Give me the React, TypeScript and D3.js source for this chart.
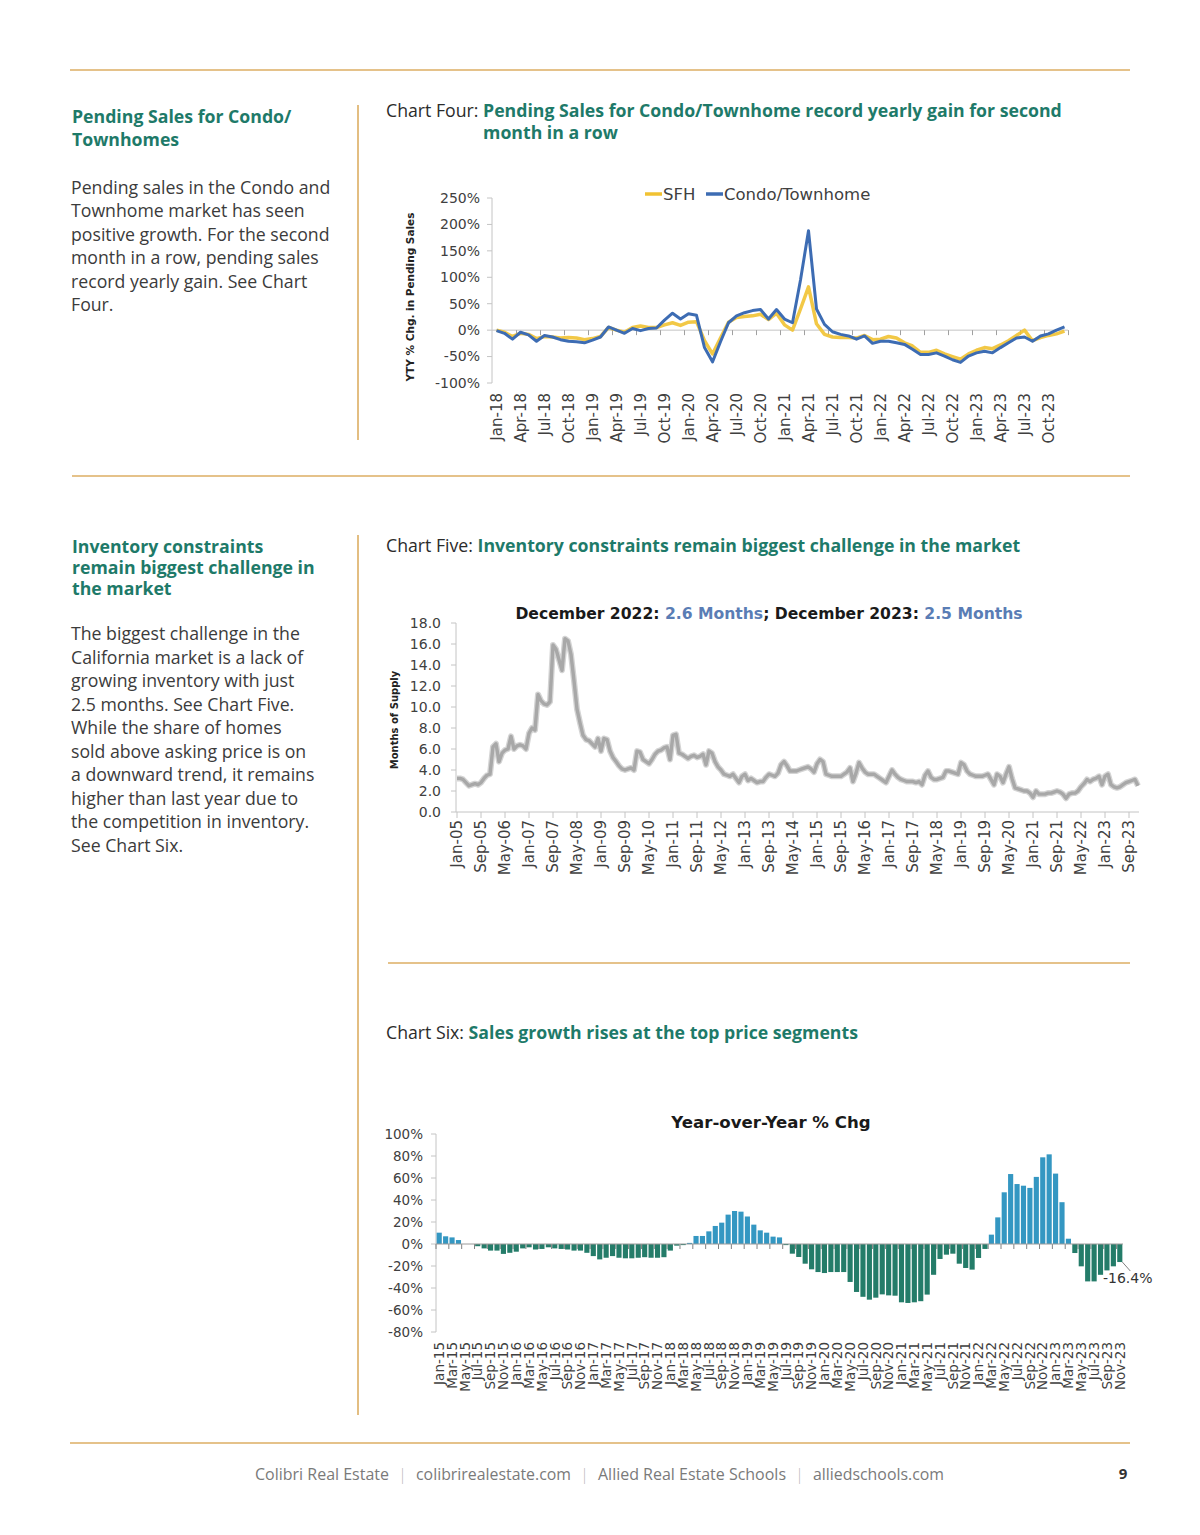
import * as d3 from "d3";
import { useEffect, useRef } from "react";

const TEAL = "#1e7a69";
const GOLD = "#dcae63";
const INK = "#3b3b3b";
const AXIS = "#c4c4c4";
const CHART_FONT = "'DejaVu Sans', sans-serif";
const PAGE_FONT = "'Open Sans', sans-serif";
const PAGE_SIZE = 17.7;

// Chart Four: YTY % chg in pending sales, monthly Jan-18 .. Dec-23
const pendingStart = new Date(2018, 0, 1);
const sfhPending = [
  0, -4, -12, -6, -8, -16, -12, -13, -15, -14, -15, -18,
  -16, -12, 5, 0, -4, 5, 8, 5, 5, 10, 14, 9,
  15, 16, -20, -45, -15, 15, 24, 26, 27, 30, 20, 32,
  10, 0, 40, 82, 12, -8, -13, -14, -14, -15, -10, -18,
  -17, -12, -15, -24, -30, -42, -42, -38, -45, -50, -55, -45,
  -38, -33, -35, -28, -20, -10, 0, -20, -14, -10, -7, -2,
];
const condoPending = [
  -1, -6, -17, -4, -9, -21, -10, -13, -18, -21, -22, -24,
  -19, -13, 6, 0, -6, 3, -1, 3, 4, 19, 32, 21,
  31, 28, -33, -60, -22, 14, 27, 33, 37, 39, 21, 39,
  21, 14, 95, 188, 40, 11, -3, -8, -11, -17, -11, -25,
  -21, -21, -24, -27, -36, -46, -46, -43, -49, -56, -61, -49,
  -43, -40, -43, -33, -24, -15, -13, -21, -11, -7, 0, 6,
];
const pendingTicks = [-100, -50, 0, 50, 100, 150, 200, 250];

// Chart Five: months of supply, monthly Jan-05 .. Dec-23
const supplyStart = new Date(2005, 0, 1);
const monthsSupply = [
  3.2, 3.2, 3.1, 2.8, 2.5, 2.6, 2.7, 2.6, 2.8, 3.2, 3.5, 3.6,
  6.2, 6.5, 4.8, 5.6, 5.9, 6.0, 7.2, 6.0, 6.3, 6.4, 6.3, 6.0,
  7.5, 8.0, 7.8, 11.2, 10.6, 10.3, 10.2, 10.5, 15.9, 15.5, 14.5, 13.5,
  16.5, 16.3, 15.0, 12.5, 9.8, 8.5, 7.3, 6.9, 6.8, 6.5, 6.2, 7.0,
  5.8, 7.0, 6.9, 5.8, 5.2, 4.8, 4.4, 4.1, 4.0, 4.1, 4.2, 4.0,
  5.8, 5.7, 5.0, 4.8, 4.6, 5.0, 5.5, 5.8, 5.9, 6.1, 6.2, 5.0,
  7.3, 7.4, 5.6, 5.5, 5.3, 5.1, 5.3, 5.4, 5.2, 5.3, 5.5, 4.5,
  5.8, 5.6, 4.8, 4.3, 4.0, 3.6, 3.5, 3.4, 3.6, 3.2, 2.8, 3.4,
  3.6, 3.0, 3.2, 3.0, 2.8, 2.9, 2.9, 3.3, 3.6, 3.5, 3.4, 3.7,
  4.5, 4.8, 4.4, 3.9, 3.9, 3.9, 4.0, 4.1, 4.2, 4.3, 4.1, 3.8,
  4.6, 5.0, 4.8, 3.6, 3.5, 3.4, 3.4, 3.4, 3.4, 3.6, 3.8, 4.2,
  2.9, 3.7, 4.7, 4.2, 3.8, 3.6, 3.6, 3.6, 3.4, 3.2, 3.0, 2.8,
  3.4, 4.0, 3.6, 3.3, 3.1, 3.0, 2.9, 2.9, 2.9, 2.8, 2.9, 2.6,
  3.5, 3.9, 3.3, 3.1, 3.1, 3.2, 3.3, 3.9, 3.9, 3.8, 3.7, 3.6,
  4.7, 4.5, 3.9, 3.6, 3.5, 3.4, 3.4, 3.4, 3.5, 3.6, 3.1, 2.6,
  3.6, 3.4, 2.8, 3.6, 4.3, 3.2, 2.3, 2.2, 2.1, 2.0, 2.0, 1.8,
  1.4, 2.0, 1.7, 1.7, 1.7, 1.8, 1.8, 1.9, 2.0, 1.9, 1.7, 1.3,
  1.7, 1.8, 1.8, 2.0, 2.4, 2.7, 3.1, 2.9, 3.1, 3.2, 3.4, 2.6,
  3.4, 3.6, 2.6, 2.4, 2.3, 2.4, 2.6, 2.8, 2.9, 3.0, 3.1, 2.5,
];
const supplyTicks = [0, 2, 4, 6, 8, 10, 12, 14, 16, 18];

// Chart Six: year-over-year % chg in sales, monthly Jan-15 .. Nov-23
const salesStart = new Date(2015, 0, 1);
const salesYoY = [
  10.3, 7, 6, 3.6, 0, 0, -2, -4, -6, -6, -9, -8,
  -7, -4, -3, -5, -4.5, -3, -4, -4.5, -5, -6, -6, -8,
  -11, -14, -12.5, -11, -12.5, -13, -13, -12.5, -12, -12.5, -12.5, -12,
  -6, -1.5, -1, 1, 7.3, 7.3, 11.5, 16.4, 19.4, 26.7, 30, 29.4,
  25, 17.6, 12.4, 10.3, 6.7, 6, -1, -8.8, -11.8, -17.9, -23, -25.5,
  -26.4, -25.5, -25.5, -25.5, -34.5, -43.6, -48, -50.6, -48.8, -45.8, -46.7, -47,
  -53, -53.6, -53, -52, -46, -28, -13.6, -9.7, -8.8, -17.9, -21.8, -23.3,
  -12.7, -4.5, 8.5, 24.2, 47, 63.6, 54.5, 53, 51, 61, 78.8, 81.5,
  64, 38, 4.8, -8.2, -20.3, -34, -34, -28, -24, -20.3, -16.4,
];
const salesTicks = [-80, -60, -40, -20, 0, 20, 40, 60, 80, 100];

const monthLabel = (start: Date, i: number) =>
  d3.timeFormat("%b-%y")(d3.timeMonth.offset(start, i));

type Sel = d3.Selection<SVGGElement, unknown, null, undefined>;

function lines(g: Sel, rows: string[], x: number, y0: number, step: number, weight: string, fill: string) {
  g.append("text")
    .attr("font-family", PAGE_FONT)
    .attr("font-size", PAGE_SIZE)
    .attr("font-weight", weight)
    .attr("fill", fill)
    .selectAll("tspan")
    .data(rows)
    .join("tspan")
    .attr("x", x)
    .attr("y", (d, i) => y0 + i * step)
    .text((d) => d);
}

function chartTitle(g: Sel, lead: string, rest: string[], y: number) {
  const t = g
    .append("text")
    .attr("font-family", PAGE_FONT)
    .attr("font-size", PAGE_SIZE)
    .attr("x", 386)
    .attr("y", y);
  const leadSpan = t.append("tspan").attr("fill", "#2b2b2b").text(lead);
  t.append("tspan").attr("fill", TEAL).attr("font-weight", "bold").text(rest[0]);
  if (rest.length > 1) {
    const w = (leadSpan.node() as SVGTextContentElement).getComputedTextLength();
    g.append("text")
      .attr("font-family", PAGE_FONT)
      .attr("font-size", PAGE_SIZE)
      .attr("font-weight", "bold")
      .attr("fill", TEAL)
      .attr("x", 386 + w)
      .attr("y", y + 22)
      .text(rest[1]);
  }
}

const App = () => {
  const ref = useRef<SVGSVGElement>(null);

  useEffect(() => {
    const svg = d3.select(ref.current);
    svg.selectAll("*").remove();
    const page = svg.append("g") as unknown as Sel;

    // rules
    const rules = [
      [70, 1130, 70],
      [72, 1130, 476],
      [388, 1130, 963],
      [70, 1130, 1443],
    ];
    page
      .selectAll(".rule")
      .data(rules)
      .join("line")
      .attr("x1", (d) => d[0])
      .attr("x2", (d) => d[1])
      .attr("y1", (d) => d[2])
      .attr("y2", (d) => d[2])
      .attr("stroke", GOLD)
      .attr("stroke-width", 1.6);
    page
      .selectAll(".vrule")
      .data([
        [105, 440],
        [535, 1415],
      ])
      .join("line")
      .attr("x1", 358)
      .attr("x2", 358)
      .attr("y1", (d) => d[0])
      .attr("y2", (d) => d[1])
      .attr("stroke", GOLD)
      .attr("stroke-width", 1.6);

    // left column
    lines(page, ["Pending Sales for Condo/", "Townhomes"], 72, 123, 23, "bold", TEAL);
    lines(
      page,
      [
        "Pending sales in the Condo and",
        "Townhome market has seen",
        "positive growth. For the second",
        "month in a row, pending sales",
        "record yearly gain. See Chart",
        "Four.",
      ],
      71,
      194,
      23.4,
      "normal",
      INK
    );
    lines(page, ["Inventory constraints", "remain biggest challenge in", "the market"], 72, 553, 21, "bold", TEAL);
    lines(
      page,
      [
        "The biggest challenge in the",
        "California market is a lack of",
        "growing inventory with just",
        "2.5 months. See Chart Five.",
        "While the share of homes",
        "sold above asking price is on",
        "a downward trend, it remains",
        "higher than last year due to",
        "the competition in inventory.",
        "See Chart Six.",
      ],
      71,
      640,
      23.5,
      "normal",
      INK
    );

    chartTitle(page, "Chart Four: ", ["Pending Sales for Condo/Townhome record yearly gain for second", "month in a row"], 117);
    chartTitle(page, "Chart Five: ", ["Inventory constraints remain biggest challenge in the market"], 552);
    chartTitle(page, "Chart Six: ", ["Sales growth rises at the top price segments"], 1039);

    // ---------- Chart Four ----------
    const c4 = svg.append("g").attr("font-family", CHART_FONT).attr("fill", "#404040");
    const x4 = d3.scaleLinear().domain([0, condoPending.length - 1]).range([496.5, 1064.5]);
    const y4 = d3.scaleLinear().domain([-100, 250]).range([383, 198]);
    c4.append("line").attr("x1", 492).attr("x2", 492).attr("y1", y4(250)).attr("y2", y4(-100)).attr("stroke", AXIS);
    c4.selectAll(".yt4")
      .data(pendingTicks)
      .join("line")
      .attr("x1", 487)
      .attr("x2", 492)
      .attr("y1", (d) => y4(d))
      .attr("y2", (d) => y4(d))
      .attr("stroke", AXIS);
    c4.selectAll(".yl4")
      .data(pendingTicks)
      .join("text")
      .attr("x", 480)
      .attr("y", (d) => y4(d))
      .attr("dy", "0.35em")
      .attr("text-anchor", "end")
      .attr("font-size", 14)
      .text((d) => `${d}%`);
    c4.append("line").attr("x1", 492).attr("x2", 1068).attr("y1", y4(0)).attr("y2", y4(0)).attr("stroke", AXIS);
    const q4 = d3.range(0, condoPending.length, 3);
    c4.selectAll(".xt4")
      .data(q4)
      .join("line")
      .attr("x1", (d) => x4(d + 2.5))
      .attr("x2", (d) => x4(d + 2.5))
      .attr("y1", y4(0))
      .attr("y2", y4(0) + 5)
      .attr("stroke", "#a0a0a0");
    c4.selectAll(".xl4")
      .data(q4)
      .join("text")
      .attr("transform", (d) => `translate(${x4(d)},393) rotate(-90)`)
      .attr("dy", "0.35em")
      .attr("text-anchor", "end")
      .attr("font-size", 15)
      .text((d) => monthLabel(pendingStart, d));
    c4.append("text")
      .attr("transform", "translate(414,297) rotate(-90)")
      .attr("text-anchor", "middle")
      .attr("font-size", 10.5)
      .attr("font-weight", "bold")
      .attr("fill", "#222")
      .text("YTY % Chg. in Pending Sales");
    const line4 = d3
      .line<number>()
      .x((d, i) => x4(i))
      .y((d) => y4(d));
    c4.append("path")
      .attr("d", line4(sfhPending))
      .attr("fill", "none")
      .attr("stroke", "#f1c232")
      .attr("stroke-width", 3.5)
      .attr("stroke-linejoin", "round")
      .attr("opacity", 0.9);
    c4.append("path")
      .attr("d", line4(condoPending))
      .attr("fill", "none")
      .attr("stroke", "#3d6cb3")
      .attr("stroke-width", 3)
      .attr("stroke-linejoin", "round");
    const legend = [
      { name: "SFH", color: "#f1c232", x: 645 },
      { name: "Condo/Townhome", color: "#3d6cb3", x: 706 },
    ];
    const lg = c4.selectAll(".lg4").data(legend).join("g");
    lg.append("line")
      .attr("x1", (d) => d.x)
      .attr("x2", (d) => d.x + 17)
      .attr("y1", 194)
      .attr("y2", 194)
      .attr("stroke", (d) => d.color)
      .attr("stroke-width", 3.5);
    lg.append("text")
      .attr("x", (d) => d.x + 18)
      .attr("y", 194)
      .attr("dy", "0.35em")
      .attr("font-size", 16.5)
      .text((d) => d.name);

    // ---------- Chart Five ----------
    const c5 = svg.append("g").attr("font-family", CHART_FONT).attr("fill", "#404040");
    const x5 = d3.scaleLinear().domain([0, monthsSupply.length - 1]).range([457, 1138]);
    const y5 = d3.scaleLinear().domain([0, 18]).range([812, 623]);
    c5.append("line").attr("x1", 456).attr("x2", 456).attr("y1", y5(18)).attr("y2", y5(0)).attr("stroke", AXIS);
    c5.append("line").attr("x1", 456).attr("x2", 1139).attr("y1", y5(0)).attr("y2", y5(0)).attr("stroke", AXIS);
    c5.selectAll(".yt5")
      .data(supplyTicks)
      .join("line")
      .attr("x1", 451)
      .attr("x2", 456)
      .attr("y1", (d) => y5(d))
      .attr("y2", (d) => y5(d))
      .attr("stroke", AXIS);
    c5.selectAll(".yl5")
      .data(supplyTicks)
      .join("text")
      .attr("x", 441)
      .attr("y", (d) => y5(d))
      .attr("dy", "0.35em")
      .attr("text-anchor", "end")
      .attr("font-size", 14)
      .text((d) => d.toFixed(1));
    const q5 = d3.range(0, monthsSupply.length, 8);
    c5.selectAll(".xt5")
      .data(q5)
      .join("line")
      .attr("x1", (d) => x5(d))
      .attr("x2", (d) => x5(d))
      .attr("y1", y5(0))
      .attr("y2", y5(0) + 6)
      .attr("stroke", AXIS);
    c5.selectAll(".xl5")
      .data(q5)
      .join("text")
      .attr("transform", (d) => `translate(${x5(d)},820) rotate(-90)`)
      .attr("dy", "0.35em")
      .attr("text-anchor", "end")
      .attr("font-size", 15)
      .text((d) => monthLabel(supplyStart, d));
    c5.append("text")
      .attr("transform", "translate(398,720) rotate(-90)")
      .attr("text-anchor", "middle")
      .attr("font-size", 10)
      .attr("font-weight", "bold")
      .attr("fill", "#222")
      .text("Months of Supply");
    const line5 = d3
      .line<number>()
      .x((d, i) => x5(i))
      .y((d) => y5(d));
    c5.append("path")
      .attr("d", line5(monthsSupply))
      .attr("fill", "none")
      .attr("stroke", "#d4d4d4")
      .attr("stroke-width", 6)
      .attr("stroke-linejoin", "round");
    c5.append("path")
      .attr("d", line5(monthsSupply))
      .attr("fill", "none")
      .attr("stroke", "#a8a8a8")
      .attr("stroke-width", 3.4)
      .attr("stroke-linejoin", "round");
    const t5 = c5
      .append("text")
      .attr("x", 769)
      .attr("y", 619)
      .attr("text-anchor", "middle")
      .attr("font-size", 15.6)
      .attr("font-weight", "bold");
    t5.append("tspan").attr("fill", "#1a1a1a").text("December 2022: ");
    t5.append("tspan").attr("fill", "#5a7db5").text("2.6 Months");
    t5.append("tspan").attr("fill", "#1a1a1a").text("; December 2023: ");
    t5.append("tspan").attr("fill", "#5a7db5").text("2.5 Months");

    // ---------- Chart Six ----------
    const c6 = svg.append("g").attr("font-family", CHART_FONT).attr("fill", "#404040");
    const x6 = d3
      .scaleBand<number>()
      .domain(d3.range(salesYoY.length))
      .range([436, 1123])
      .paddingInner(0.2)
      .paddingOuter(0.1);
    const y6 = d3.scaleLinear().domain([-80, 100]).range([1332, 1134]);
    c6.append("line").attr("x1", 436).attr("x2", 436).attr("y1", y6(100)).attr("y2", y6(-80)).attr("stroke", AXIS);
    c6.selectAll(".yt6")
      .data(salesTicks)
      .join("line")
      .attr("x1", 431)
      .attr("x2", 436)
      .attr("y1", (d) => y6(d))
      .attr("y2", (d) => y6(d))
      .attr("stroke", AXIS);
    c6.selectAll(".yl6")
      .data(salesTicks)
      .join("text")
      .attr("x", 423)
      .attr("y", (d) => y6(d))
      .attr("dy", "0.35em")
      .attr("text-anchor", "end")
      .attr("font-size", 13.5)
      .text((d) => `${d}%`);
    const q6 = d3.range(0, salesYoY.length, 2);
    const step6 = x6.step();
    c6.selectAll(".xt6")
      .data(q6)
      .join("line")
      .attr("x1", (d) => (x6(d) as number) - step6 * 0.1)
      .attr("x2", (d) => (x6(d) as number) - step6 * 0.1)
      .attr("y1", y6(0))
      .attr("y2", y6(0) + 5)
      .attr("stroke", "#808080");
    c6.selectAll(".bar6")
      .data(salesYoY)
      .join("rect")
      .attr("x", (d, i) => x6(i) as number)
      .attr("width", x6.bandwidth())
      .attr("y", (d) => y6(Math.max(0, d)))
      .attr("height", (d) => Math.abs(y6(d) - y6(0)))
      .attr("fill", (d) => (d >= 0 ? "#3497c2" : "#247c69"));
    c6.append("line").attr("x1", 436).attr("x2", 1123).attr("y1", y6(0)).attr("y2", y6(0)).attr("stroke", "#9a9a9a");
    c6.selectAll(".xl6")
      .data(q6)
      .join("text")
      .attr("transform", (d) => `translate(${(x6(d) as number) + x6.bandwidth() / 2},1342) rotate(-90)`)
      .attr("dy", "0.35em")
      .attr("text-anchor", "end")
      .attr("font-size", 13.5)
      .text((d) => monthLabel(salesStart, d));
    const lastI = salesYoY.length - 1;
    const lx = (x6(lastI) as number) + x6.bandwidth();
    const ly = y6(salesYoY[lastI]);
    c6.append("line")
      .attr("x1", lx)
      .attr("y1", ly)
      .attr("x2", lx + 8)
      .attr("y2", ly + 9)
      .attr("stroke", "#808080");
    c6.append("text")
      .attr("x", 1103)
      .attr("y", ly + 16)
      .attr("dy", "0.35em")
      .attr("font-size", 14)
      .attr("fill", "#333")
      .text(`${salesYoY[lastI]}%`);
    c6.append("text")
      .attr("x", 771)
      .attr("y", 1128)
      .attr("text-anchor", "middle")
      .attr("font-size", 16.6)
      .attr("font-weight", "bold")
      .attr("fill", "#1a1a1a")
      .text("Year-over-Year % Chg");

    // ---------- footer ----------
    const footer = [
      { t: "Colibri Real Estate", x: 255, w: 134 },
      { t: "|", x: 401, w: 3 },
      { t: "colibrirealestate.com", x: 416, w: 155 },
      { t: "|", x: 583, w: 3 },
      { t: "Allied Real Estate Schools", x: 598, w: 188 },
      { t: "|", x: 798, w: 3 },
      { t: "alliedschools.com", x: 813, w: 131 },
    ];
    svg
      .append("g")
      .selectAll("text")
      .data(footer)
      .join("text")
      .attr("x", (d) => d.x)
      .attr("y", 1480)
      .attr("font-family", "'Liberation Sans Narrow', 'Open Sans', sans-serif")
      .attr("font-size", 17)
      .attr("fill", "#7a7a7a")
      .attr("textLength", (d) => d.w)
      .attr("lengthAdjust", "spacingAndGlyphs")
      .text((d) => d.t);
    svg
      .append("text")
      .attr("x", 1123)
      .attr("y", 1479)
      .attr("text-anchor", "middle")
      .attr("font-family", PAGE_FONT)
      .attr("font-size", 15)
      .attr("font-weight", "bold")
      .attr("fill", "#333")
      .text("9");
  }, []);

  return (
    <svg
      ref={ref}
      width={1200}
      height={1535}
      style={{ position: "absolute", left: 0, top: 0, background: "#fff" }}
    />
  );
};

export default App;
